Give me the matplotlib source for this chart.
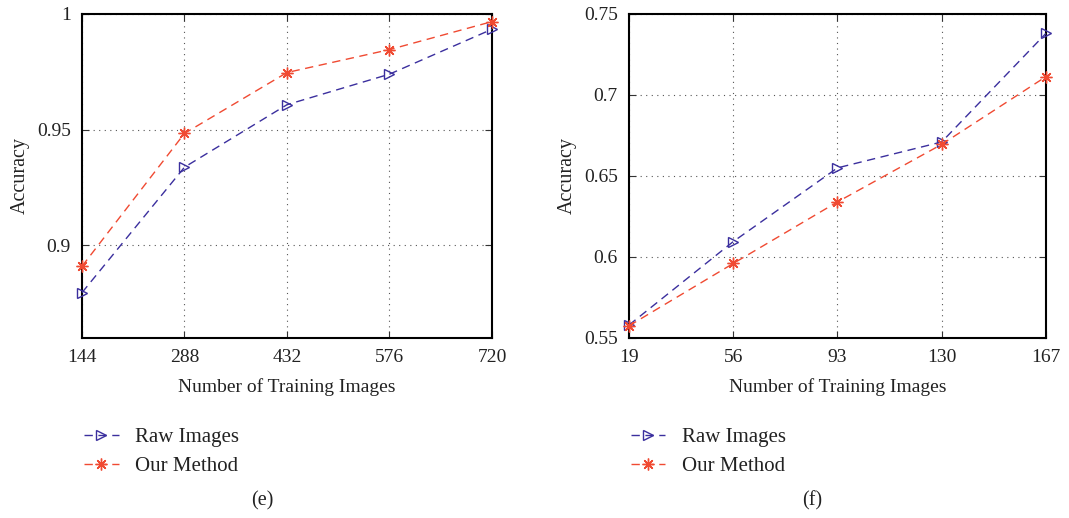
import matplotlib
matplotlib.use("Agg")
import matplotlib.pyplot as plt
from matplotlib.ticker import FuncFormatter

plt.rcParams['font.family'] = ['Liberation Serif', 'DejaVu Serif']

# Panel (e)
e_x = [144, 288, 432, 576, 720]
e_raw = [0.8796, 0.9338, 0.9608, 0.9740, 0.9934]
e_ours = [0.8910, 0.9484, 0.9747, 0.9846, 0.9967]
e_yticks = [0.9, 0.95, 1.0]

# Panel (f)
f_x = [19, 56, 93, 130, 167]
f_raw = [0.5580, 0.6095, 0.6550, 0.6710, 0.7380]
f_ours = [0.5575, 0.5960, 0.6340, 0.6695, 0.7113]
f_yticks = [0.55, 0.6, 0.65, 0.7, 0.75]

labels = ["Raw Images", "Our Method"]
blue = "#3b2f9e"
red = "#f04a32"

fig = plt.figure(figsize=(10.69, 5.18), dpi=100)
ax1 = fig.add_axes([0.0767, 0.3475, 0.3835, 0.6255])
ax2 = fig.add_axes([0.5884, 0.3475, 0.3900, 0.6255])

fmt = FuncFormatter(lambda v, p: "%g" % v)

def draw(ax, x, raw, ours, yticks, ylim, tag):
    ax.plot(x, raw, linestyle=(0, (6, 4)), color=blue, lw=1.0, marker='>',
            markersize=7.5, markerfacecolor='none', markeredgecolor=blue,
            markeredgewidth=1.0, label=labels[0], clip_on=False, zorder=3)
    ax.plot(x, ours, linestyle=(0, (6, 4)), color=red, lw=1.0, marker=(8, 2, 0),
            markersize=8.5, markeredgecolor=red, markeredgewidth=1.0,
            label=labels[1], clip_on=False, zorder=3)
    ax.set_xlim(x[0], x[-1])
    ax.set_ylim(*ylim)
    ax.set_xticks(x)
    ax.set_yticks(yticks)
    ax.yaxis.set_major_formatter(fmt)
    ax.grid(True, linestyle=(0, (1, 4)), color='#555555', lw=0.8)
    ax.tick_params(direction='in', top=True, right=True, labelsize=14, length=5,
                   color='#333333', labelcolor='#222222')
    ax.tick_params(axis='x', pad=8)
    ax.tick_params(axis='y', pad=8)
    for s in ax.spines.values():
        s.set_linewidth(1.5)
    ax.set_xlabel("Number of Training Images", fontsize=14, color='#222222', labelpad=9)
    ax.set_ylabel("Accuracy", fontsize=14.5, color='#222222', labelpad=5)
    leg = ax.legend(loc='upper left', bbox_to_anchor=(-0.015, -0.25), frameon=False,
                    fontsize=15, handlelength=1.65, handletextpad=0.8,
                    labelspacing=0.45, borderaxespad=0)
    for t in leg.get_texts():
        t.set_color('#222222')
    ax.text(0.44, -0.503, tag, transform=ax.transAxes, fontsize=14.5,
            ha='center', va='center', color='#222222')

draw(ax1, e_x, e_raw, e_ours, e_yticks, (0.86, 1.0), "(e)")
draw(ax2, f_x, f_raw, f_ours, f_yticks, (0.55, 0.75), "(f)")

fig.savefig("out.png", dpi=100)
